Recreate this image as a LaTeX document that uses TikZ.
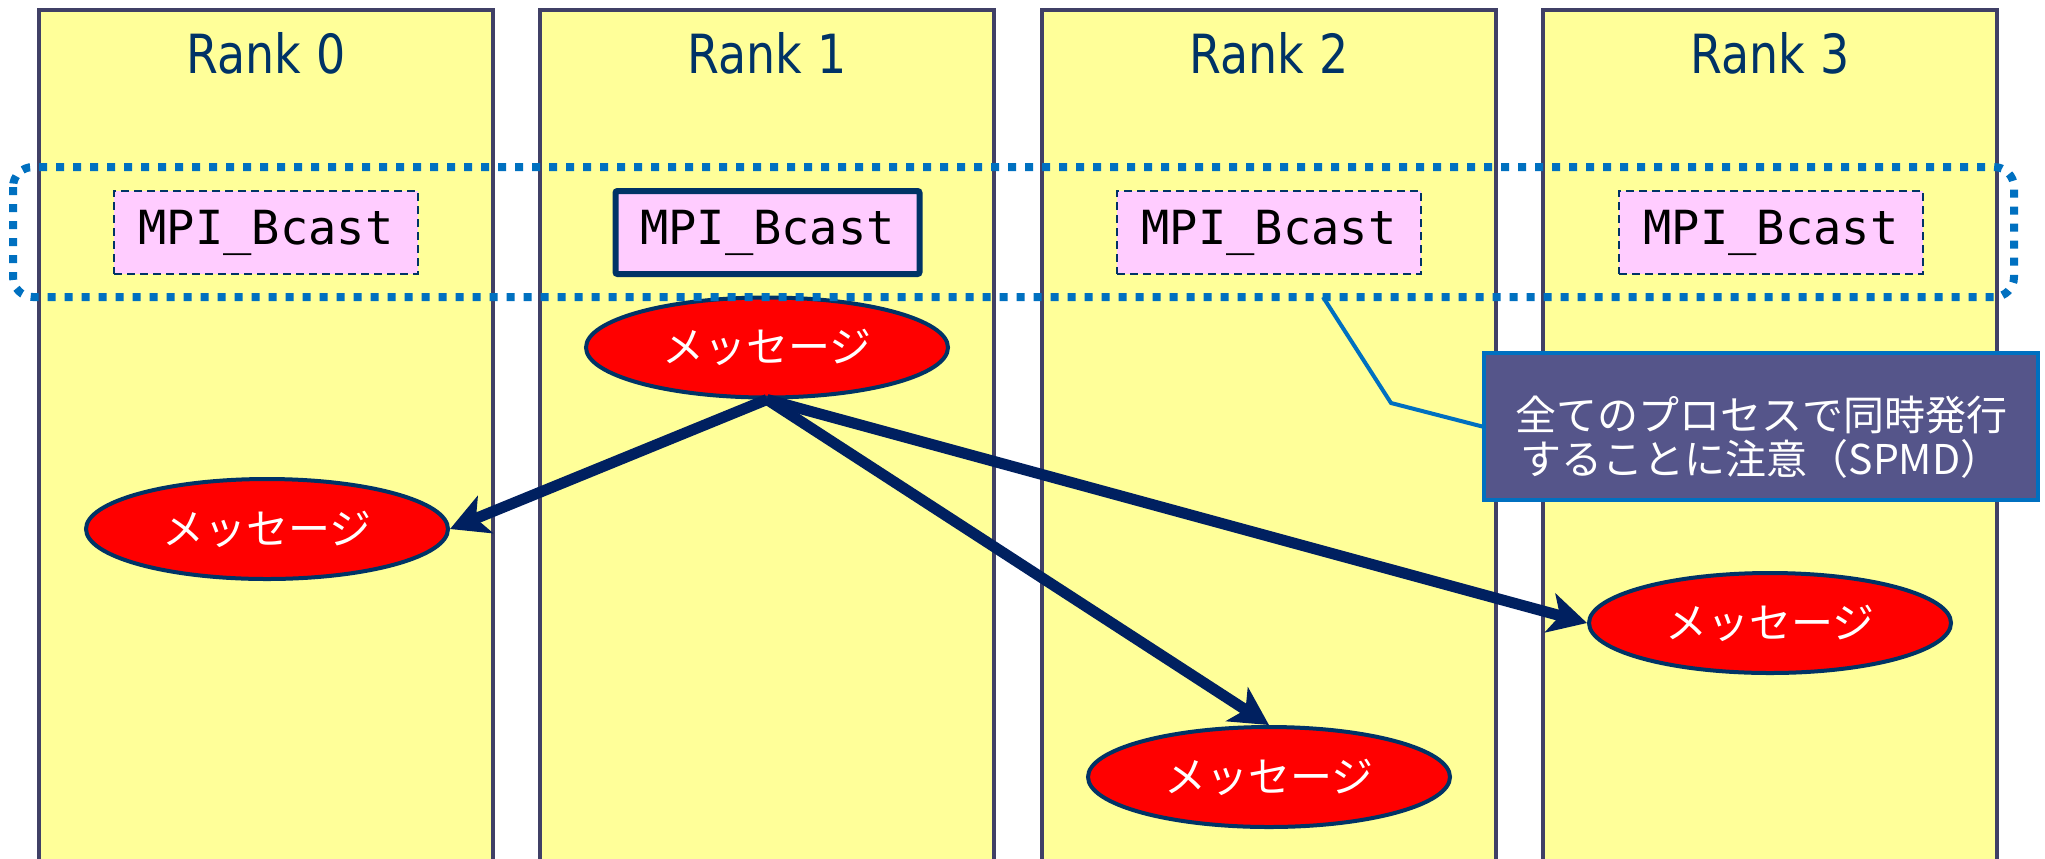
\documentclass[tikz,border=0pt]{standalone}
\usepackage{fontspec}
\usetikzlibrary{shapes.geometric,arrows.meta}
\newfontfamily\rankfont[FakeStretch=0.85]{DejaVu Sans}
\newfontfamily\codefont{DejaVu Sans Mono}
\newfontfamily\jpfont{Noto Sans CJK JP}
\definecolor{colfill}{HTML}{FFFF99}
\definecolor{colborder}{RGB}{64,64,102}
\definecolor{navy}{HTML}{003366}
\definecolor{arrownavy}{HTML}{002060}
\definecolor{dotblue}{HTML}{0070C0}
\definecolor{pinkfill}{HTML}{FFCCFF}
\definecolor{calloutfill}{RGB}{85,85,138}
\begin{document}
\begin{tikzpicture}[x=0.5pt,y=-0.5pt,
  column/.style={draw=colborder, fill=colfill, line width=2pt, rectangle,
    minimum width=227pt, minimum height=430pt, inner sep=0pt},
  ranklabel/.style={text=navy, font=\rankfont\fontsize{27}{30}\selectfont, anchor=base, inner sep=0pt},
  mpibox/.style={rectangle, fill=pinkfill, draw=navy, minimum width=152pt, minimum height=41.5pt,
    inner sep=0pt, font=\codefont\fontsize{23.5}{26}\selectfont},
  mpidash/.style={mpibox, line width=1pt, dash pattern=on 4pt off 2.5pt},
  mpithick/.style={mpibox, line width=3pt, rounded corners=1pt},
  msg/.style={ellipse, fill=red, draw=navy, line width=2pt, minimum width=181pt,
    minimum height=50pt, inner sep=0pt, text=white, font=\jpfont\fontsize{21}{23}\selectfont},
  bcastarrow/.style={draw=arrownavy, line width=5.5pt,
    -{Stealth[length=19pt,width=20pt,inset=5pt]}},
  groupbox/.style={draw=dotblue, line width=4pt, dash pattern=on 4pt off 4.5pt, rounded corners=10pt},
  calloutbox/.style={rectangle, fill=calloutfill, draw=dotblue, line width=1.75pt,
    minimum width=277pt, minimum height=73.5pt, inner sep=0pt, text=white, align=center,
    font=\jpfont\fontsize{20.5}{22}\selectfont, text height=50pt},
  calloutline/.style={draw=dotblue, line width=2pt}
]
\clip (0,0) rectangle (2045,858);
\fill[white] (0,0) rectangle (2045,858);

% columns
\node[column] (col0) at (266,440) {};
\node[column] (col1) at (767,440) {};
\node[column] (col2) at (1269,440) {};
\node[column] (col3) at (1770,440) {};

% rank labels
\node[ranklabel] (r0) at (266,73) {Rank 0};
\node[ranklabel] (r1) at (767,73) {Rank 1};
\node[ranklabel] (r2) at (1269,73) {Rank 2};
\node[ranklabel] (r3) at (1770,73) {Rank 3};

% MPI_Bcast boxes
\node[mpidash] (b0) at (266,232.5) {MPI\_Bcast};
\node[mpithick] (b1) at (767.5,232.5) {MPI\_Bcast};
\node[mpidash] (b2) at (1269,232.5) {MPI\_Bcast};
\node[mpidash] (b3) at (1771,232.5) {MPI\_Bcast};

% messages
\node[msg] (m1) at (767,347.5) {メッセージ};
\node[msg] (m0) at (267,529) {メッセージ};
\node[msg] (m2) at (1269,777) {メッセージ};
\node[msg] (m3) at (1770,623) {メッセージ};

% arrows
\draw[bcastarrow] (m1.south) -- (m0.east);
\draw[bcastarrow] (m1.south) -- (m2.north);
\draw[bcastarrow] (m1.south) -- (m3.west);

% dotted group
\draw[groupbox] (13,167) rectangle (2014,297);

% callout
\coordinate (cstart) at (1323,297);
\coordinate (cbend) at (1391,403);
\node[calloutbox] (callout) at (1761,426.5) {全てのプロセスで同時発行\\することに注意（SPMD）};
\draw[calloutline] (cstart) -- (cbend) -- (callout.west);
\end{tikzpicture}
\end{document}
